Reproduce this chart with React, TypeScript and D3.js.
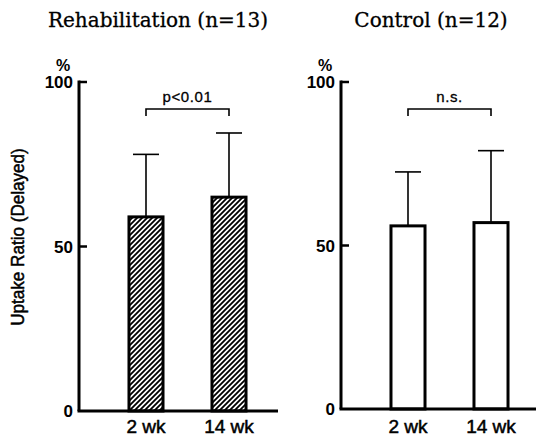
import * as d3 from 'd3'
import React from 'react'

const periods = ['2 wk', '14 wk']
const rehabMeans = [59, 65]
const rehabSD = [19, 19.5]
const controlMeans = [56, 57]
const controlSD = [16.5, 22]
const yTicks = [0, 50, 100]

const panels = [
  {
    title: 'Rehabilitation (n=13)',
    titleX: 158,
    axisX: 79,
    baseY: 411,
    axisW: 199,
    means: rehabMeans,
    sd: rehabSD,
    hatched: true,
    sig: 'p<0.01'
  },
  {
    title: 'Control (n=12)',
    titleX: 431,
    axisX: 341,
    baseY: 409,
    axisW: 200,
    means: controlMeans,
    sd: controlSD,
    hatched: false,
    sig: 'n.s.'
  }
]

const sans = '"Liberation Sans", Arial, sans-serif'

function Panel({ p }) {
  const y = d3.scaleLinear().domain([0, 100]).range([p.baseY, 82])
  const x = d3
    .scaleBand()
    .domain(periods)
    .range([p.axisX + 25.5, p.axisX + 191.5])
    .paddingInner(0.59)
    .paddingOuter(0.295)
  const bw = x.bandwidth()
  const cx = (d) => x(d) + bw / 2
  const bracketY = 109

  return (
    <g>
      <text
        x={p.titleX}
        y={27}
        textAnchor="middle"
        fontFamily='"DejaVu Serif", serif'
        fontSize={20}
        stroke="#000"
        strokeWidth={0.3}
      >
        {p.title}
      </text>

      {/* bars */}
      {periods.map((d, i) => {
        const top = y(p.means[i])
        const errTop = y(p.means[i] + p.sd[i])
        return (
          <g key={d}>
            <line x1={cx(d)} x2={cx(d)} y1={top} y2={errTop} stroke="#000" strokeWidth={1.6} />
            <line x1={cx(d) - 13} x2={cx(d) + 13} y1={errTop} y2={errTop} stroke="#000" strokeWidth={1.6} />
            <rect
              x={x(d)}
              y={top}
              width={bw}
              height={p.baseY - top}
              fill={p.hatched ? 'url(#hatch)' : '#fff'}
              stroke="#000"
              strokeWidth={3}
            />
            <text
              x={cx(d)}
              y={433}
              textAnchor="middle"
              fontFamily={sans}
              fontSize={19}
              stroke="#000"
              strokeWidth={0.5}
            >
              {d}
            </text>
          </g>
        )
      })}

      {/* axes */}
      <line x1={p.axisX} x2={p.axisX} y1={y(100) - 1.5} y2={p.baseY} stroke="#000" strokeWidth={3} />
      <line x1={p.axisX - 1.5} x2={p.axisX + p.axisW} y1={p.baseY} y2={p.baseY} stroke="#000" strokeWidth={3} />
      {yTicks.map((t) => (
        <g key={t}>
          {t > 0 && (
            <line x1={p.axisX} x2={p.axisX + 8} y1={y(t)} y2={y(t)} stroke="#000" strokeWidth={2.5} />
          )}
          <text
            x={p.axisX - 6}
            y={y(t) + 6}
            textAnchor="end"
            fontFamily={sans}
            fontWeight="bold"
            fontSize={17}
          >
            {t}
          </text>
        </g>
      ))}
      <text
        x={p.axisX - 16}
        y={y(100) - 11}
        textAnchor="middle"
        fontFamily={sans}
        fontWeight="bold"
        fontSize={16}
      >
        %
      </text>

      {/* significance bracket */}
      <path
        d={`M${cx(periods[0])},${bracketY + 7}V${bracketY}H${cx(periods[1])}V${bracketY + 7}`}
        fill="none"
        stroke="#000"
        strokeWidth={1.6}
      />
      <text
        x={(cx(periods[0]) + cx(periods[1])) / 2}
        y={bracketY - 7}
        textAnchor="middle"
        fontFamily={sans}
        fontSize={15}
        letterSpacing={0.6}
        stroke="#000"
        strokeWidth={0.3}
      >
        {p.sig}
      </text>
    </g>
  )
}

export default function App() {
  return (
    <svg width={536} height={441} style={{ position: 'absolute', left: 0, top: 0, background: '#fff' }}>
      <defs>
        <pattern id="hatch" patternUnits="userSpaceOnUse" width={5} height={5}>
          <rect width={5} height={5} fill="#fff" />
          <path d="M-1,6 L6,-1 M-1,1 L1,-1 M4,6 L6,4" stroke="#000" strokeWidth={1.8} />
        </pattern>
      </defs>
      {panels.map((p) => (
        <Panel key={p.title} p={p} />
      ))}
      <text
        transform="translate(24,237) rotate(-90) scale(0.9,1)"
        textAnchor="middle"
        fontFamily={sans}
        fontSize={19}
        stroke="#000"
        strokeWidth={0.5}
      >
        Uptake Ratio (Delayed)
      </text>
    </svg>
  )
}
